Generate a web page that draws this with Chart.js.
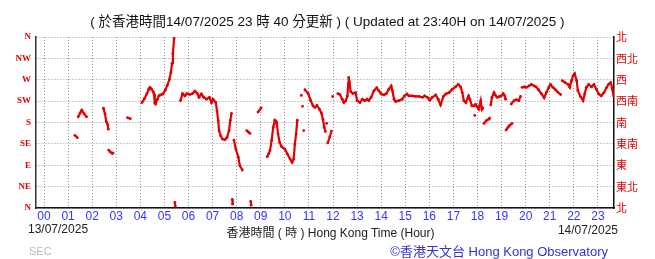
<!DOCTYPE html>
<html>
<head>
<meta charset="utf-8">
<script src="https://cdn.jsdelivr.net/npm/chart.js@4/dist/chart.umd.min.js"></script>
<style>
  body { margin: 0; background: #fff; }
  #wrap { position: relative; width: 655px; height: 259px; overflow: hidden; }
  #wrap canvas { position: absolute; left: 0; top: 0; }
  .txt { position: absolute; white-space: nowrap; font-family: "Liberation Sans", "Noto Sans CJK TC", sans-serif; }
  #title { left: 0; width: 655px; top: 10px; text-align: center; font-size: 13.5px; color: #111; }
  #dayL { left: 28px; top: 222px; font-size: 12px; color: #222; }
  #axisName { left: 3px; width: 655px; top: 223px; text-align: center; font-size: 12px; color: #222; }
  #dayR { right: 37px; top: 223px; font-size: 12px; color: #222; }
  #credit { right: 47px; top: 241px; font-size: 13px; color: #3333cc; }
  #sec { left: 29px; top: 245px; font-size: 11px; color: #bbb; }
</style>
</head>
<body>
<div id="wrap">
  <canvas id="windDirChart" width="655" height="259"></canvas>
  <div class="txt" id="title">( 於香港時間14/07/2025 23 時 40 分更新 ) ( Updated at 23:40H on 14/07/2025 )</div>
  <div class="txt" id="dayL">13/07/2025</div>
  <div class="txt" id="axisName">香港時間 ( 時 ) Hong Kong Time (Hour)</div>
  <div class="txt" id="dayR">14/07/2025</div>
  <div class="txt" id="credit">©香港天文台 Hong Kong Observatory</div>
  <div class="txt" id="sec">SEC</div>
</div>
<script>
// tick labels
const hourLabels = ['00','01','02','03','04','05','06','07','08','09','10','11',
                    '12','13','14','15','16','17','18','19','20','21','22','23'];
const dirLabelsEn = ['N','NE','E','SE','S','SW','W','NW','N'];      // 0..360 step 45
const dirLabelsZh = ['北','東北','東','東南','南','西南','西','西北','北'];

// observation times (HKT) and wind direction in degrees, null = break in the trace
const times = [
  '01:17','01:23', null,
  '01:25','01:30','01:34','01:40','01:46', null,
  '02:28','02:32','02:35','02:39','02:40', null,
  '02:41','02:45','02:50','02:52', null,
  '03:28','03:35', null,
  '04:04','04:10','04:16','04:21','04:24','04:28','04:32','04:34','04:36','04:38','04:42','04:46','04:50','04:56',
  '05:02','05:07','05:12','05:16','05:19','05:21','05:24', null,
  '05:26','05:27', null,
  '05:40','05:45','05:51','05:56','06:03','06:10','06:16','06:22','06:26','06:32','06:38','06:45','06:52',
  '06:57','07:01','07:08','07:11','07:14','07:16','07:20','07:25','07:31','07:36','07:41','07:44','07:47', null,
  '07:49','07:50', null,
  '07:53','07:58','08:04','08:08','08:14', null,
  '08:25','08:29','08:33', null,
  '08:35','08:36', null,
  '08:53','09:01', null,
  '09:16','09:20','09:23','09:27','09:31','09:35','09:38','09:40','09:43','09:47',
  '09:52','10:00','10:06','10:13','10:18','10:22','10:25','10:28','10:31', null,
  '10:41', null, '10:44', null, '10:47', null,
  '10:50','10:58','11:04','11:10','11:15','11:20','11:26','11:31','11:35','11:38','11:41', null,
  '11:44', null,
  '11:47','11:52','11:56', null,
  '11:59', null,
  '12:12','12:17','12:23','12:27','12:31','12:36','12:38','12:39','12:41','12:44','12:50','12:56',
  '13:00','13:07','13:13','13:19','13:25','13:29','13:35','13:42','13:49','13:54',
  '14:00','14:07','14:13','14:19','14:25','14:28','14:32','14:36','14:44','14:52','14:58',
  '15:04','15:09','15:17','15:26','15:34','15:43','15:48','15:55',
  '16:01','16:07','16:16','16:22','16:28','16:35','16:41','16:49','16:57',
  '17:05','17:12','17:18','17:22','17:26','17:31','17:36','17:38','17:41','17:46','17:51','17:55','17:59',
  '18:03','18:05','18:08','18:11','18:13', null,
  '17:53', null,
  '18:16','18:22','18:28','18:30', null,
  '18:33','18:36','18:41','18:44','18:49','18:55','18:59','19:04','19:08','19:10', null,
  '19:11','19:16','19:20','19:26', null,
  '19:24','19:31','19:37','19:43','19:47', null,
  '19:51','19:56','20:02','20:08','20:14','20:21','20:26','20:32','20:39',
  '20:46','20:52','20:58','21:02','21:08','21:14','21:20','21:27', null,
  '21:31','21:37','21:46','21:50','21:54','21:58','22:02','22:07','22:10','22:17','22:23','22:27',
  '22:31','22:37','22:44','22:50','22:56','23:02','23:08','23:15','23:21','23:27','23:32','23:36','23:39'
];
const dirs = [
  153,148, null,
  192,200,206,198,192, null,
  210,198,182,175,166, null,
  122,118,115,116, null,
  190,188, null,
  222,230,240,250,254,250,245,240,221,219,228,236,238,240,
  248,258,270,285,305,325,357, null,
  12,4, null,
  226,241,236,241,239,241,246,241,233,240,233,229,233,
  222,229,222,204,184,163,152,145,144,149,163,184,199, null,
  18,8, null,
  143,124,107,89,80, null,
  163,160,157, null,
  14,6, null,
  202,211, null,
  108,115,121,142,170,185,183,177,156,138,
  129,124,114,103,96,103,135,156,185, null,
  237, null, 214, null, 163, null,
  249,241,227,215,212,216,208,200,186,170,161, null,
  178, null,
  137,150,162, null,
  235, null,
  241,239,229,222,225,236,262,275,265,245,241,243,
  226,222,229,226,229,226,233,247,253,247,
  240,238,241,250,257,247,229,224,226,229,236,
  240,236,236,235,235,233,236,233,
  227,233,238,229,217,235,240,243,250,
  255,260,255,243,226,222,232,236,229,215,215,218,213,
  208,215,226,208,211, null,
  195, null,
  178,184,187,189, null,
  217,233,243,238,233,235,236,241,236,229, null,
  164,170,174,178, null,
  219,226,228,226,235, null,
  254,255,254,257,260,257,255,249,241,
  232,244,255,260,254,249,244,239, null,
  268,265,260,254,268,278,283,268,247,234,226,240,
  254,260,255,260,250,240,236,243,253,261,264,250,236
];

if (times.length !== dirs.length) console.error('length mismatch', times.length, dirs.length);

const toHour = s => { const p = s.split(':'); return +p[0] + (+p[1]) / 60; };
let lastX = 0;
const points = times.map((t, i) => {
  if (t === null || dirs[i] === null) return { x: lastX, y: null };
  lastX = toHour(t);
  return { x: lastX, y: dirs[i] };
});

const red = 'rgb(228, 0, 0)';
const gridDots = { color: '#9a9a9a', lineWidth: 1, drawTicks: false };

const ctx = document.getElementById('windDirChart').getContext('2d');
new Chart(ctx, {
  type: 'line',
  data: {
    datasets: [{
      data: points,
      borderColor: red,
      backgroundColor: red,
      borderWidth: 2.2,
      pointRadius: 1.4,
      pointHoverRadius: 0,
      pointBorderWidth: 0,
      tension: 0,
      spanGaps: false
    }]
  },
  options: {
    responsive: false,
    animation: false,
    events: [],
    layout: { padding: { top: 37, bottom: 35, left: 0, right: 0 } },
    plugins: { legend: { display: false }, tooltip: { enabled: false } },
    scales: {
      x: {
        type: 'linear',
        min: -1 / 3,
        max: 23 + 2 / 3,
        afterBuildTicks: s => { s.ticks = hourLabels.map((_, i) => ({ value: i })); },
        afterFit: s => { s.height = 16; },
        ticks: {
          padding: 1,
          color: '#3434ff',
          font: { family: "'Liberation Sans', sans-serif", size: 12 },
          maxRotation: 0,
          autoSkip: false,
          callback: v => hourLabels[v]
        },
        grid: gridDots,
        border: { color: '#111', width: 1.5, dash: [1, 2] }
      },
      y: {
        position: 'left',
        min: 0,
        max: 360,
        afterBuildTicks: s => { s.ticks = dirLabelsEn.map((_, i) => ({ value: i * 45 })); },
        afterFit: s => { s.width = 36; },
        ticks: {
          padding: 5,
          color: red,
          font: { family: "'Liberation Serif', serif", size: 9, weight: 'bold' },
          callback: v => dirLabelsEn[Math.round(v / 45)]
        },
        grid: gridDots,
        border: { color: '#333', width: 1.5, dash: [1, 2] }
      },
      y2: {
        position: 'right',
        min: 0,
        max: 360,
        afterBuildTicks: s => { s.ticks = dirLabelsZh.map((_, i) => ({ value: i * 45 })); },
        afterFit: s => { s.width = 41; },
        ticks: {
          padding: 2,
          color: red,
          font: { family: "'Noto Sans CJK TC', sans-serif", size: 11 },
          callback: v => dirLabelsZh[Math.round(v / 45)]
        },
        grid: { display: true, drawOnChartArea: false, drawTicks: false },
        border: { color: '#111', width: 1.5 }
      }
    }
  }
});
</script>
</body>
</html>
